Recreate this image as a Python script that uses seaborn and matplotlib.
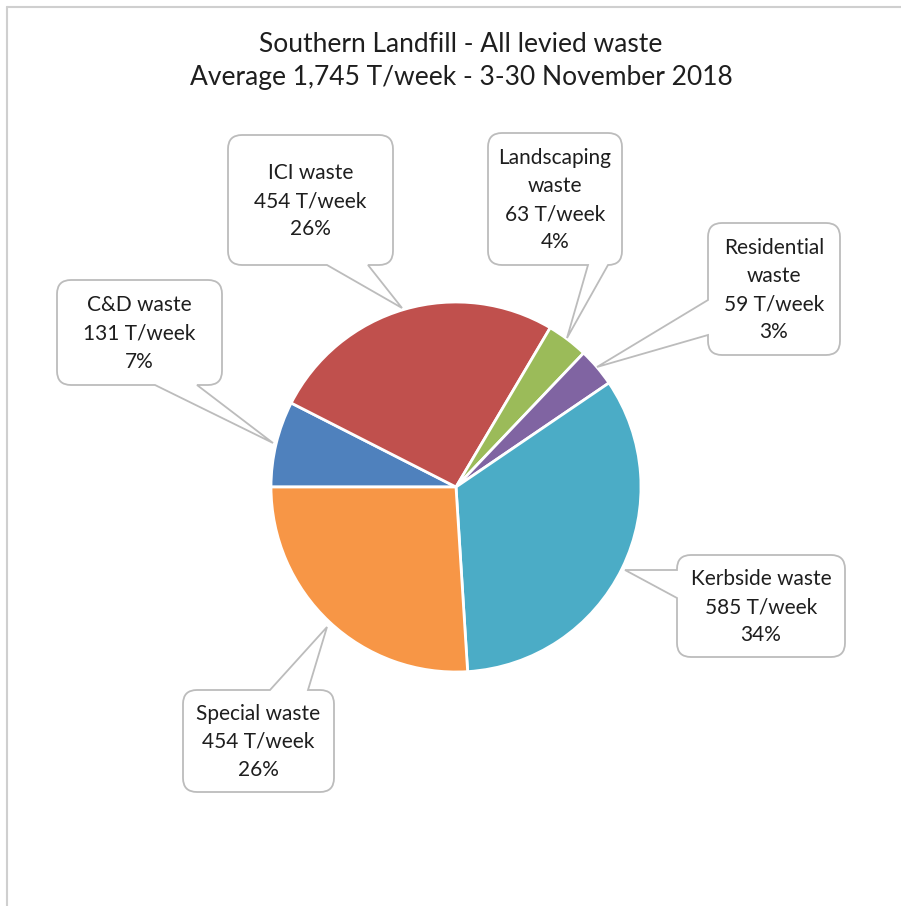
import matplotlib
matplotlib.use("Agg")
import matplotlib.pyplot as plt
import seaborn as sns
from matplotlib.path import Path
from matplotlib.patches import PathPatch
from matplotlib.lines import Line2D

# ---- data ----
categories = ["C&D waste", "ICI waste", "Landscaping\nwaste", "Residential\nwaste",
              "Kerbside waste", "Special waste"]
tonnes = [131, 454, 63, 59, 585, 454]
percent_labels = ["7%", "26%", "4%", "3%", "34%", "26%"]
colors = ["#4F81BD", "#C0504D", "#9BBB59", "#8064A2", "#4BACC6", "#F79646"]
title_lines = ["Southern Landfill - All levied waste",
               "Average 1,745 T/week - 3-30 November 2018"]

W, H = 901, 906
sns.set_theme(style="white")
plt.rcParams['font.family'] = ['Lato', 'DejaVu Sans']

fig = plt.figure(figsize=(W / 100, H / 100), dpi=100)
ax = fig.add_axes([0, 0, 1, 1])


def Y(y):
    return H - y


# pie
cx, cy, R = 456, 487, 185
ax.pie(tonnes, colors=colors, startangle=180, counterclock=False,
       center=(cx, Y(cy)), radius=R,
       wedgeprops=dict(edgecolor="white", linewidth=2))


def callout(x0, y0, x1, y1, side, a, b, tip, r=14):
    verts, codes = [], []

    def mv(p):
        verts.append(p); codes.append(Path.MOVETO)

    def ln(p):
        verts.append(p); codes.append(Path.LINETO)

    def cv(c, p):
        verts.extend([c, p]); codes.extend([Path.CURVE3, Path.CURVE3])

    mv((x0 + r, y0))
    if side == "top":
        ln((a, y0)); ln(tip); ln((b, y0))
    ln((x1 - r, y0))
    cv((x1, y0), (x1, y0 + r))
    if side == "right":
        ln((x1, a)); ln(tip); ln((x1, b))
    ln((x1, y1 - r))
    cv((x1, y1), (x1 - r, y1))
    if side == "bottom":
        ln((b, y1)); ln(tip); ln((a, y1))
    ln((x0 + r, y1))
    cv((x0, y1), (x0, y1 - r))
    if side == "left":
        ln((x0, b)); ln(tip); ln((x0, a))
    ln((x0, y0 + r))
    cv((x0, y0), (x0 + r, y0))
    verts.append((x0 + r, y0)); codes.append(Path.CLOSEPOLY)
    verts = [(vx, Y(vy)) for vx, vy in verts]
    ax.add_patch(PathPatch(Path(verts, codes), facecolor="white",
                           edgecolor="#bcbcbc", linewidth=1.3, zorder=3))


# callout boxes: (x0, y0, x1, y1, side, a, b, tip)
boxes = [
    (57, 280, 222, 385, "bottom", 155, 197, (273, 443)),
    (228, 135, 393, 265, "bottom", 327, 368, (402, 308)),
    (488, 133, 622, 265, "bottom", 588, 608, (567, 338)),
    (708, 223, 840, 355, "left", 300, 335, (597, 367)),
    (677, 555, 845, 657, "left", 570, 598, (625, 570)),
    (183, 690, 334, 792, "top", 270, 308, (327, 627)),
]

for cat, t, p, bx in zip(categories, tonnes, percent_labels, boxes):
    x0, y0, x1, y1, side, a, b, tip = bx
    callout(x0, y0, x1, y1, side, a, b, tip)
    label = f"{cat}\n{t} T/week\n{p}"
    ax.text((x0 + x1) / 2, Y((y0 + y1) / 2 + 1), label, ha="center", va="center",
            fontsize=15, linespacing=1.52, color="#1e1e1e", zorder=4)

# title
ax.text(461, Y(45), title_lines[0], ha="center", va="center", fontsize=19, color="#1e1e1e")
ax.text(461, Y(78), title_lines[1], ha="center", va="center", fontsize=19, color="#1e1e1e")

# chart frame
ax.add_line(Line2D([7, W], [Y(7), Y(7)], color="#cfcfcf", linewidth=1.5))
ax.add_line(Line2D([7, 7], [Y(7), 0], color="#cfcfcf", linewidth=1.5))

ax.set_xlim(0, W)
ax.set_ylim(0, H)
ax.set_aspect("equal")
ax.axis("off")

fig.savefig("out.png", dpi=100, facecolor="white")
